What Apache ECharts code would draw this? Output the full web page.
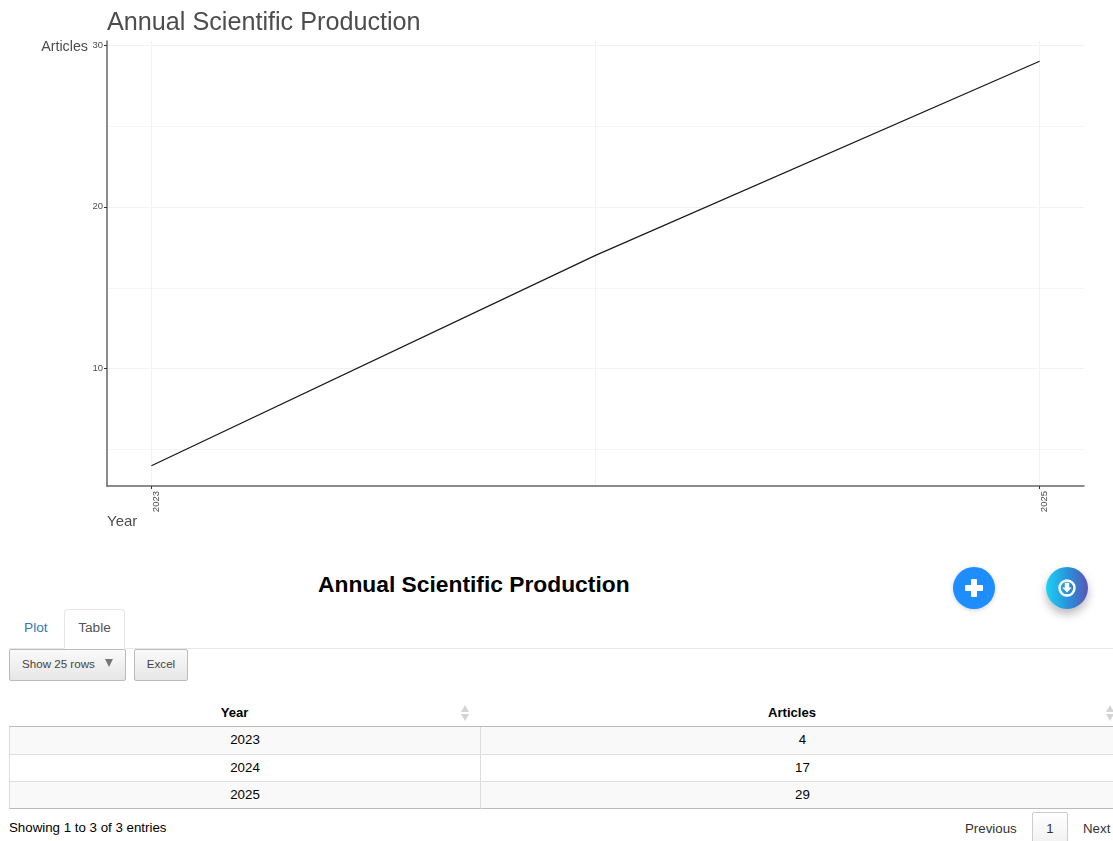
<!DOCTYPE html>
<html>
<head>
<meta charset="utf-8">
<script src="https://cdn.jsdelivr.net/npm/echarts@6/dist/echarts.min.js"></script>
<style>
html,body{margin:0;padding:0;width:1113px;height:841px;overflow:hidden;background:#fff;font-family:"Liberation Sans",Arial,sans-serif;color:#333}
#chart{position:absolute;left:0;top:0;width:1113px;height:545px}
.abs{position:absolute}
#heading{left:318px;top:570px;font-size:22.8px;font-weight:bold;color:#000;line-height:28px;white-space:nowrap}
.fab{position:absolute;top:567px;width:42px;height:42px;border-radius:50%;}
#plus{left:953px;background:#1e8dff;box-shadow:0 1px 4px rgba(0,0,0,.2)}
#plus:before{content:"";position:absolute;left:12px;top:18px;width:18px;height:6px;background:#fff;border-radius:1px}
#plus:after{content:"";position:absolute;left:18px;top:12px;width:6px;height:18px;background:#fff;border-radius:1px}
#dl{left:1046px;background:linear-gradient(90deg,#1fd0f5,#2a8fd8 55%,#5a55b5);box-shadow:0 5px 10px rgba(0,0,0,.28)}
#dl svg{position:absolute;left:11px;top:11px}
#tabline{left:9px;top:648px;width:1104px;height:1px;background:#e6e6e6}
#tabPlot{left:24px;top:620px;font-size:13.7px;line-height:16px;color:#337ab7}
#tabTable{left:64px;top:609px;width:61px;height:40px;border:1px solid #e6e6e6;border-bottom:1px solid #fff;border-radius:4px 4px 0 0;box-sizing:border-box;background:#fff;font-size:13.7px;line-height:36px;text-align:center;color:#555}
.btn{position:absolute;top:649px;height:32px;box-sizing:border-box;border:1px solid #bbb;border-radius:2px;background:linear-gradient(#fafafa,#e6e6e6);font-size:11.6px;line-height:27px;color:#444}
#show{left:9px;width:117px;padding-left:12px}
#show:after{content:"";position:absolute;left:95px;top:9px;border-left:4.5px solid transparent;border-right:4.5px solid transparent;border-top:8px solid #777}
#excel{left:134px;width:54px;text-align:center}
table{position:absolute;left:9px;top:698px;width:1115px;border-collapse:separate;border-spacing:0;table-layout:fixed;color:#000}
th{height:29px;padding:0 20px 0 0;box-sizing:border-box;font-size:13.1px;font-weight:bold;text-align:center;border-bottom:1px solid #bbb;position:relative}
td{height:27px;padding:0 0 1px 0;box-sizing:border-box;text-align:center;border-bottom:1px solid #ddd;font-size:13.3px}
tbody tr:first-child td{height:28px;padding-bottom:2px}
td+td{border-left:1px solid #ddd}
tbody tr:nth-child(odd) td{background:#f9f9f9}
tbody tr:last-child td{border-bottom:1px solid #bbb}
tbody td:first-child{border-left:1px solid #ddd}
.sort{position:absolute;top:7px;width:9px;height:16px}
.sort:before{content:"";position:absolute;left:0;top:0;border-left:4.5px solid transparent;border-right:4.5px solid transparent;border-bottom:7px solid #d5d5d5}
.sort:after{content:"";position:absolute;left:0;top:9px;border-left:4.5px solid transparent;border-right:4.5px solid transparent;border-top:7px solid #d5d5d5}
#info{left:9px;top:820px;font-size:13.3px;line-height:16px;color:#000}
.pg{position:absolute;font-size:13.3px;line-height:16px;color:#333;top:821px}
#pgcur{left:1032px;top:812px;width:36px;height:40px;box-sizing:border-box;border:1px solid #ccc;border-radius:2px;background:linear-gradient(#fff,#eee);text-align:center;line-height:32px;color:#333}
</style>
</head>
<body>
<div id="chart"></div>
<div id="heading" class="abs"></div>
<div id="plus" class="fab"></div>
<div id="dl" class="fab"><svg width="20" height="20" viewBox="0 0 20 20"><circle cx="10" cy="10" r="7.5" fill="none" stroke="#fff" stroke-width="2.4"/><path d="M7.8 4.8h4.4v4.6h2.6L10 14.6 5.2 9.4h2.6z" fill="#fff"/></svg></div>
<div id="tabline" class="abs"></div>
<div id="tabPlot" class="abs">Plot</div>
<div id="tabTable" class="abs">Table</div>
<div id="show" class="btn">Show 25 rows</div>
<div id="excel" class="btn">Excel</div>
<table id="tbl"><colgroup><col style="width:471px"><col style="width:644px"></colgroup><thead><tr id="hd"></tr></thead><tbody id="bd"></tbody></table>
<div id="info" class="abs">Showing 1 to 3 of 3 entries</div>
<div class="pg" style="left:965px">Previous</div>
<div id="pgcur" class="pg">1</div>
<div class="pg" style="left:1083px">Next</div>
<script>
var chartTitle = "Annual Scientific Production";
var columnNames = ["Year", "Articles"];
var years = [2023, 2024, 2025];
var articles = [4, 17, 29];
var xLabelTicks = [2023, 2025];
var xGridLines = [2023, 2024, 2025];
var yLabelTicks = [10, 20, 30];
var yMinorLines = [5, 15, 25];

document.getElementById('heading').textContent = chartTitle;
document.getElementById('hd').innerHTML = columnNames.map(function(n,i){
  return '<th>'+n+'<span class="sort" style="right:'+(i===0?10:9)+'px"></span></th>';
}).join('');
document.getElementById('bd').innerHTML = years.map(function(y,i){
  return '<tr><td>'+y+'</td><td>'+articles[i]+'</td></tr>';
}).join('');

var font = '"Liberation Sans",Arial,sans-serif';
var gridStyle = {show:true, lineStyle:{color:'#f2f2f2', width:1}};
var xMin = 2022.9, xMax = 2025.1, yMin = 2.75, yMax = 30.25;
var chart = echarts.init(document.getElementById('chart'), null, {renderer:'canvas'});
chart.setOption({
  animation:false,
  backgroundColor:'#fff',
  title:{text:chartTitle,left:107,top:11,padding:0,textStyle:{fontFamily:font,fontSize:25.2,fontWeight:'normal',color:'#4d4d4d'}},
  grid:{left:107,right:29,top:41,bottom:59,containLabel:false},
  xAxis:[{
    type:'value',min:xMin,max:xMax,
    name:'Year',nameLocation:'start',nameGap:0,
    nameTextStyle:{fontFamily:font,fontSize:15,color:'#4d4d4d',align:'left',verticalAlign:'top',padding:[28,0,0,0]},
    axisLine:{show:true,onZero:false,lineStyle:{color:'#666',width:1.5}},
    axisTick:{show:true,length:3,lineStyle:{color:'#333',width:1},customValues:xLabelTicks},
    axisLabel:{show:true,rotate:90,fontFamily:font,fontSize:9.5,color:'#4d4d4d',margin:5,verticalAlign:'top',customValues:xLabelTicks,formatter:function(v){return String(v);}},
    splitLine:{show:false}
  },{
    type:'value',min:xMin,max:xMax,position:'bottom',
    axisLine:{show:false},
    axisTick:{show:false,customValues:xGridLines},
    axisLabel:{show:false,customValues:xGridLines},
    splitLine:gridStyle
  }],
  yAxis:[{
    type:'value',min:yMin,max:yMax,
    name:'Articles',nameLocation:'end',nameGap:-6,nameMoveOverlap:false,
    nameTextStyle:{fontFamily:font,fontSize:14.3,color:'#4d4d4d',align:'right',verticalAlign:'middle',padding:[0,19,0,0]},
    axisLine:{show:true,onZero:false,lineStyle:{color:'#666',width:1.5}},
    axisTick:{show:true,length:3,lineStyle:{color:'#333',width:1},customValues:yLabelTicks},
    axisLabel:{show:true,fontFamily:font,fontSize:9.5,color:'#4d4d4d',margin:4,customValues:yLabelTicks},
    splitLine:gridStyle
  },{
    type:'value',min:yMin,max:yMax,position:'left',
    axisLine:{show:false},
    axisTick:{show:false,customValues:yMinorLines},
    axisLabel:{show:false,customValues:yMinorLines},
    splitLine:{show:true,lineStyle:{color:'#f5f5f5',width:1}}
  }],
  series:[{
    type:'line',
    data:years.map(function(y,i){return [y,articles[i]];}),
    showSymbol:false,symbol:'none',
    lineStyle:{color:'#1a1a1a',width:1.3},
    z:5
  }]
});
</script>
</body>
</html>
